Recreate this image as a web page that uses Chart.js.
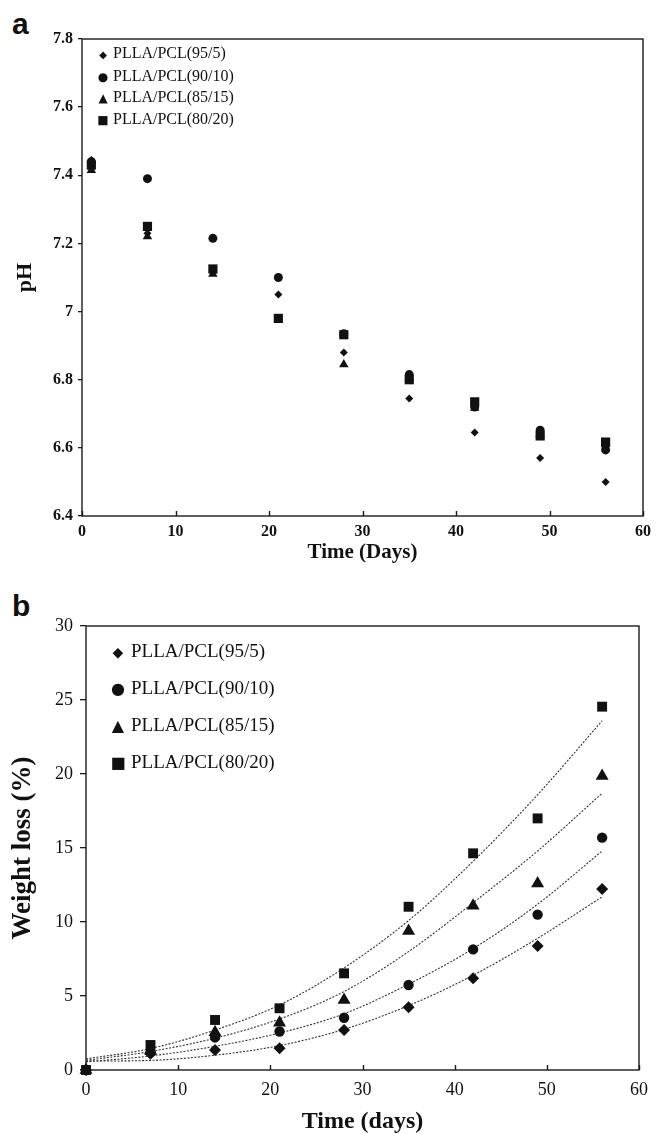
<!DOCTYPE html>
<html>
<head>
<meta charset="utf-8">
<script src="https://cdn.jsdelivr.net/npm/chart.js@4.4.0/dist/chart.umd.min.js"></script>
<style>
  html, body { margin: 0; padding: 0; background: #fff; }
  #page { position: relative; width: 657px; height: 1134px; overflow: hidden; }
  .box { position: absolute; left: 0; width: 657px; }
  #boxA { top: 0; height: 570px; }
  #boxB { top: 570px; height: 564px; }
  .tag { position: absolute; font-family: "Liberation Sans", Arial, sans-serif; font-weight: bold; font-size: 30px; line-height: 1; color: #111; }
  .legend { position: absolute; font-family: "Liberation Serif", "Times New Roman", serif; color: #111; }
  .legend div { white-space: nowrap; }
  .legend .m { display: inline-block; text-align: center; font-family: "DejaVu Sans", sans-serif; }
</style>
</head>
<body>
<div id="page">
  <div class="tag" style="left:12px;top:9px;">a</div>
  <div class="tag" style="left:12px;top:591px;">b</div>
  <div class="box" id="boxA"><canvas id="phChart" width="657" height="570"></canvas></div>
  <div class="box" id="boxB"><canvas id="lossChart" width="657" height="564"></canvas></div>
  <div class="legend" id="legA" style="left:96px;top:43px;font-size:16px;line-height:20.7px;"></div>
  <div class="legend" id="legB" style="left:109px;top:633px;font-size:19px;line-height:36px;"></div>
</div>
<script>
// series names and markers
const seriesNames = ['PLLA/PCL(95/5)', 'PLLA/PCL(90/10)', 'PLLA/PCL(85/15)', 'PLLA/PCL(80/20)'];
const markerStyles = ['rectRot', 'circle', 'triangle', 'rect'];
const markerGlyphs = ['\u25C6', '\u25CF', '\u25B2', '\u25A0'];

// (a) pH vs time
const phDays = [1, 7, 14, 21, 28, 35, 42, 49, 56];
const ph95 = [7.445, 7.23, 7.12, 7.05, 6.88, 6.745, 6.645, 6.57, 6.50];
const ph90 = [7.44, 7.39, 7.215, 7.10, 6.935, 6.815, 6.72, 6.652, 6.594];
const ph85 = [7.415, 7.22, 7.11, 6.975, 6.845, 6.805, 6.717, 6.64, 6.61];
const ph80 = [7.43, 7.25, 7.125, 6.98, 6.932, 6.80, 6.735, 6.635, 6.617];
const phTicks = [6.4, 6.6, 6.8, 7, 7.2, 7.4, 7.6, 7.8];
const dayTicks = [0, 10, 20, 30, 40, 50, 60];

// (b) weight loss vs time
const lossDays = [0, 7, 14, 21, 28, 35, 42, 49, 56];
const loss95 = [0, 1.1, 1.35, 1.47, 2.7, 4.24, 6.2, 8.38, 12.23];
const loss90 = [0, 1.2, 2.2, 2.6, 3.53, 5.74, 8.15, 10.5, 15.7];
const loss85 = [0, 1.3, 2.55, 3.2, 4.73, 9.39, 11.1, 12.6, 19.86];
const loss80 = [0, 1.69, 3.38, 4.17, 6.53, 11.03, 14.64, 17.0, 24.55];
// dotted trend curves
const fit95 = [0.6, 0.65, 1.0, 1.65, 2.75, 4.35, 6.4, 8.9, 11.7];
const fit90 = [0.55, 0.95, 1.6, 2.5, 3.8, 5.8, 8.2, 11.2, 14.8];
const fit85 = [0.65, 1.25, 2.15, 3.45, 5.3, 8.0, 11.3, 14.8, 18.7];
const fit80 = [0.75, 1.45, 2.7, 4.4, 6.9, 10.1, 14.1, 18.6, 23.6];
const lossTicks = [0, 5, 10, 15, 20, 25, 30];

const ink = '#111';
const serif = '"Liberation Serif", "Times New Roman", serif';

// frame round the plot + x ticks pointing inward
const frame = {
  id: 'frame',
  beforeDatasetsDraw(chart, args, opts) {
    const { ctx, chartArea: a, scales } = chart;
    const x = scales.x;
    ctx.save();
    ctx.strokeStyle = '#1a1a1a';
    ctx.lineWidth = 1.4;
    ctx.strokeRect(a.left, a.top, a.right - a.left, a.bottom - a.top);
    ctx.beginPath();
    x.ticks.forEach(t => {
      const px = Math.round(x.getPixelForValue(t.value)) + 0.5;
      ctx.moveTo(px, a.bottom);
      ctx.lineTo(px, a.bottom - opts.tick);
    });
    ctx.stroke();
    ctx.restore();
  }
};

function points(xs, ys) {
  return xs.map((d, i) => ({ x: d, y: ys[i] }));
}

function markerSet(i, xs, ys, radius) {
  return {
    label: seriesNames[i],
    data: points(xs, ys),
    showLine: false,
    pointStyle: markerStyles[i],
    pointRadius: radius[i],
    pointBackgroundColor: ink,
    pointBorderColor: ink,
    pointBorderWidth: 0,
    clip: false
  };
}

function fitSet(xs, ys) {
  return {
    label: 'fit',
    data: points(xs, ys),
    showLine: true,
    pointRadius: 0,
    borderColor: '#333',
    borderWidth: 1.1,
    borderDash: [2, 1.5],
    tension: 0.4,
    cubicInterpolationMode: 'monotone',
    fill: false
  };
}

function axes(cfg) {
  return {
    x: {
      type: 'linear', min: 0, max: 60,
      afterBuildTicks: s => { s.ticks = dayTicks.map(v => ({ value: v })); },
      afterFit: s => { s.height = cfg.xHeight; },
      grid: { display: false, drawTicks: false },
      border: { display: false },
      ticks: { color: ink, padding: cfg.xPad, font: { family: serif, size: cfg.tickSize, weight: cfg.tickWeight } },
      title: {
        display: true, text: cfg.xTitle, color: ink,
        font: { family: serif, size: cfg.xTitleSize, weight: 'bold', lineHeight: cfg.xTitleLH },
        padding: { top: 0, bottom: cfg.xTitlePad }
      }
    },
    y: {
      type: 'linear', min: cfg.yTicks[0], max: cfg.yTicks[cfg.yTicks.length - 1],
      afterBuildTicks: s => { s.ticks = cfg.yTicks.map(v => ({ value: v })); },
      afterFit: s => { s.width = cfg.yWidth; },
      grid: { display: true, drawOnChartArea: false, drawTicks: true, tickLength: cfg.yTick, color: '#1a1a1a', lineWidth: 1.3 },
      border: { display: false },
      ticks: {
        color: ink, padding: cfg.yPad,
        font: { family: serif, size: cfg.tickSize, weight: cfg.tickWeight },
        callback: v => String(+v.toFixed(1))
      },
      title: {
        display: true, text: cfg.yTitle, color: ink,
        font: { family: serif, size: cfg.yTitleSize, weight: 'bold', lineHeight: 1.2 },
        padding: { top: cfg.yTitlePad, bottom: 0 }
      }
    }
  };
}

const baseOpts = {
  responsive: false,
  animation: false,
  events: [],
  plugins: { legend: { display: false }, tooltip: { enabled: false } }
};

new Chart(document.getElementById('phChart'), {
  type: 'scatter',
  data: {
    datasets: [
      markerSet(0, phDays, ph95, [4, 4.5, 5.5, 6.5]),
      markerSet(1, phDays, ph90, [4, 4.5, 5.5, 6.5]),
      markerSet(2, phDays, ph85, [4, 4.5, 5.5, 6.5]),
      markerSet(3, phDays, ph80, [4, 4.5, 5.5, 6.5])
    ]
  },
  options: Object.assign({}, baseOpts, {
    layout: { padding: { top: 39, right: 12, left: 0, bottom: 0 } },
    plugins: Object.assign({}, baseOpts.plugins, { frame: { tick: 5 } }),
    scales: axes({
      yTicks: phTicks, xHeight: 54, yWidth: 82, xPad: 6, yPad: 5, yTick: 4,
      tickSize: 16, tickWeight: 'bold',
      xTitle: 'Time (Days)', xTitleSize: 21, xTitleLH: 1.2, xTitlePad: 5,
      yTitle: 'pH', yTitleSize: 22, yTitlePad: 12
    })
  }),
  plugins: [frame]
});

new Chart(document.getElementById('lossChart'), {
  type: 'scatter',
  data: {
    datasets: [
      markerSet(0, lossDays, loss95, [6, 5.2, 7.5, 7]),
      markerSet(1, lossDays, loss90, [6, 5.2, 7.5, 7]),
      markerSet(2, lossDays, loss85, [6, 5.2, 7.5, 7]),
      markerSet(3, lossDays, loss80, [6, 5.2, 7.5, 7]),
      fitSet(lossDays, fit95),
      fitSet(lossDays, fit90),
      fitSet(lossDays, fit85),
      fitSet(lossDays, fit80)
    ]
  },
  options: Object.assign({}, baseOpts, {
    layout: { padding: { top: 56, right: 11, left: 0, bottom: 0 } },
    plugins: Object.assign({}, baseOpts.plugins, { frame: { tick: 5 } }),
    scales: axes({
      yTicks: lossTicks, xHeight: 64, yWidth: 86, xPad: 9, yPad: 7, yTick: 6,
      tickSize: 18, tickWeight: 'normal',
      xTitle: 'Time (days)', xTitleSize: 24, xTitleLH: 1.0, xTitlePad: 0,
      yTitle: 'Weight loss (%)', yTitleSize: 27, yTitlePad: 7
    })
  }),
  plugins: [frame]
});

// legends inside the plot areas
function buildLegend(id, glyphSize, boxW, gap) {
  const el = document.getElementById(id);
  seriesNames.forEach((name, i) => {
    const row = document.createElement('div');
    const m = document.createElement('span');
    m.className = 'm';
    m.style.width = boxW + 'px';
    m.style.marginRight = gap + 'px';
    m.style.fontSize = (i === 0 ? glyphSize - 2 : glyphSize) + 'px';
    m.textContent = markerGlyphs[i];
    row.appendChild(m);
    row.appendChild(document.createTextNode(name));
    el.appendChild(row);
  });
}
buildLegend('legA', 12, 14, 3);
buildLegend('legB', 16, 18, 4);
</script>
</body>
</html>
